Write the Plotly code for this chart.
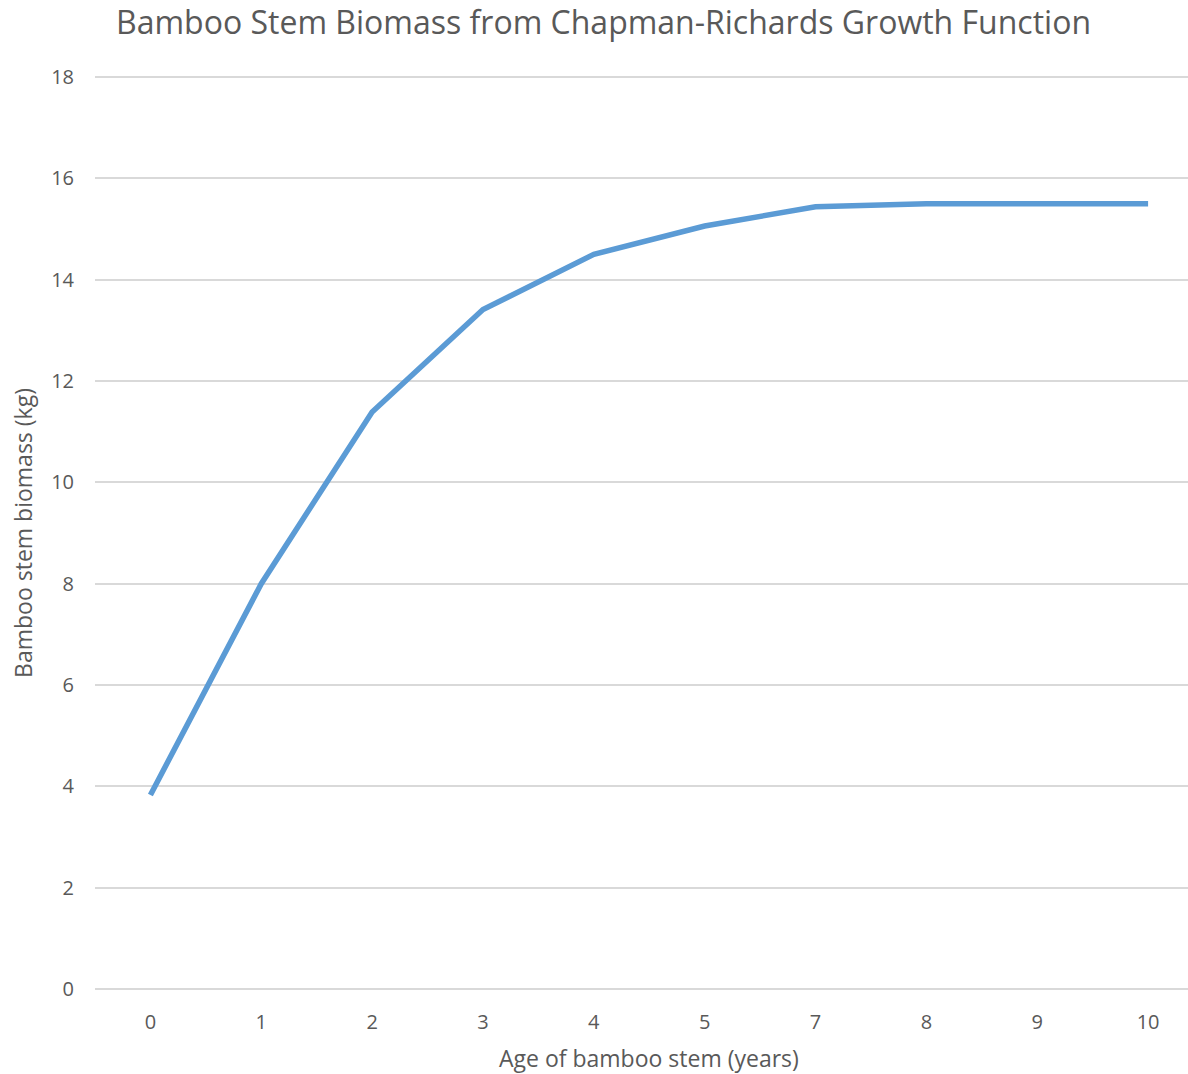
import plotly.graph_objects as go

ages = ["0", "1", "2", "3", "4", "5", "7", "8", "9", "10"]
biomass = [3.83, 8.0, 11.39, 13.41, 14.50, 15.06, 15.44, 15.50, 15.50, 15.50]
y_ticks = [0, 2, 4, 6, 8, 10, 12, 14, 16, 18]

FONT = "Open Sans"
GREY = "#595959"

fig = go.Figure()
fig.add_trace(go.Scatter(
    x=ages, y=biomass, mode="lines",
    line=dict(color="#5B9BD5", width=5.5),
    showlegend=False, hoverinfo="x+y",
))

fig.update_layout(
    width=1188, height=1074,
    margin=dict(l=95, r=0, t=76, b=84),
    paper_bgcolor="white", plot_bgcolor="white",
    title=dict(text="Bamboo Stem Biomass from Chapman-Richards Growth Function",
               x=0.508, xanchor="center", y=0.979, yanchor="middle",
               font=dict(family=FONT, size=32, color=GREY)),
    xaxis=dict(type="category", range=[-0.5, 9.36],
               showgrid=False, zeroline=False, showline=False, ticks="",
               ticklabelstandoff=18,
               tickfont=dict(family=FONT, size=20, color=GREY)),
    yaxis=dict(range=[-0.02, 18.02], tickvals=y_ticks, showgrid=True,
               gridcolor="#D9D9D9", gridwidth=1.5, zeroline=False,
               showline=False, ticks="", ticklabelstandoff=20,
               tickfont=dict(family=FONT, size=20, color=GREY),
               title=dict(text="Bamboo stem biomass (kg)", standoff=12,
                          font=dict(family=FONT, size=23, color=GREY))),
    annotations=[dict(text="Age of bamboo stem (years)", xref="paper", yref="paper",
                      x=(649 - 95) / (1188 - 95), y=-(1058 - 990) / (1074 - 76 - 84),
                      xanchor="center", yanchor="middle", showarrow=False,
                      font=dict(family=FONT, size=23, color=GREY))],
)

fig.write_html("out.html")
